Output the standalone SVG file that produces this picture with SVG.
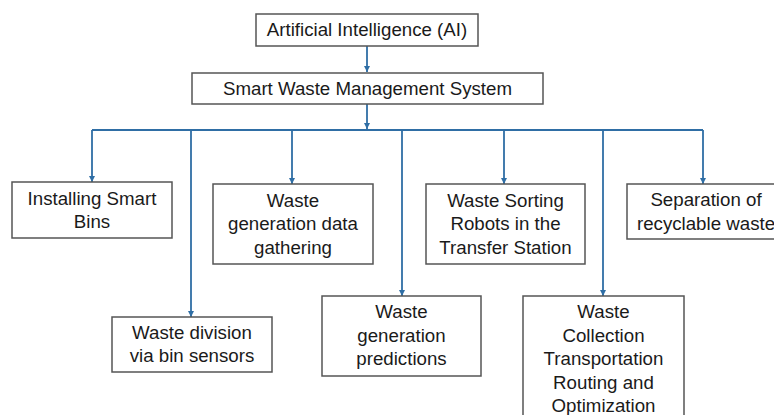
<svg xmlns="http://www.w3.org/2000/svg" width="774" height="415" viewBox="0 0 774 415">
<style>
.box{fill:#fff;stroke:#555;stroke-width:1.5}
.t{font-family:"Liberation Sans",Arial,sans-serif;font-size:18.7px;fill:#1a1a1a;text-anchor:middle}
.c{fill:none;stroke:#2f6ea5;stroke-width:1.8}
</style>
<defs>
<marker id="ah" markerWidth="8" markerHeight="8" refX="6" refY="4" orient="auto" markerUnits="userSpaceOnUse">
<path d="M0,1 L6,4 L0,7 z" fill="#2f6ea5"/>
</marker>
</defs>
<rect width="774" height="415" fill="#fff"/>
<g id="connectors">
<path class="c" d="M367,46 V72" marker-end="url(#ah)"/>
<path class="c" d="M367,104 V129" marker-end="url(#ah)"/>
<path class="c" d="M92,130 H703"/>
<path class="c" d="M92,130 V182" marker-end="url(#ah)"/>
<path class="c" d="M191,130 V317" marker-end="url(#ah)"/>
<path class="c" d="M292,130 V184" marker-end="url(#ah)"/>
<path class="c" d="M402,130 V296" marker-end="url(#ah)"/>
<path class="c" d="M504,130 V184" marker-end="url(#ah)"/>
<path class="c" d="M603,130 V296" marker-end="url(#ah)"/>
<path class="c" d="M703,130 V184" marker-end="url(#ah)"/>
</g>
<g id="ai">
<rect class="box" x="256" y="14" width="222" height="32"/>
<text class="t" x="367" y="36">Artificial Intelligence (AI)</text>
</g>
<g id="swms">
<rect class="box" x="192" y="73" width="351" height="31"/>
<text class="t" x="367.5" y="94.5">Smart Waste Management System</text>
</g>
<g id="bins">
<rect class="box" x="12" y="182" width="160" height="56"/>
<text class="t" x="92" y="204.5">Installing Smart</text>
<text class="t" x="92" y="227.5">Bins</text>
</g>
<g id="gather">
<rect class="box" x="213" y="184" width="160" height="80"/>
<text class="t" x="293" y="206.5">Waste</text>
<text class="t" x="293" y="230">generation data</text>
<text class="t" x="293" y="253.5">gathering</text>
</g>
<g id="sorting">
<rect class="box" x="426" y="184" width="159" height="80"/>
<text class="t" x="505.5" y="206.5">Waste Sorting</text>
<text class="t" x="505.5" y="230">Robots in the</text>
<text class="t" x="505.5" y="253.5">Transfer Station</text>
</g>
<g id="separation">
<rect class="box" x="627" y="184" width="160" height="55"/>
<text class="t" x="706" y="206">Separation of</text>
<text class="t" x="706" y="229.5">recyclable waste</text>
</g>
<g id="division">
<rect class="box" x="112" y="317" width="160" height="55"/>
<text class="t" x="192" y="339">Waste division</text>
<text class="t" x="192" y="362">via bin sensors</text>
</g>
<g id="predictions">
<rect class="box" x="322" y="296" width="159" height="80"/>
<text class="t" x="401.5" y="318">Waste</text>
<text class="t" x="401.5" y="341.5">generation</text>
<text class="t" x="401.5" y="365">predictions</text>
</g>
<g id="collection">
<rect class="box" x="523" y="296" width="161" height="130"/>
<text class="t" x="603.5" y="318">Waste</text>
<text class="t" x="603.5" y="341.5">Collection</text>
<text class="t" x="603.5" y="365">Transportation</text>
<text class="t" x="603.5" y="388.5">Routing and</text>
<text class="t" x="603.5" y="412">Optimization</text>
</g>
</svg>
